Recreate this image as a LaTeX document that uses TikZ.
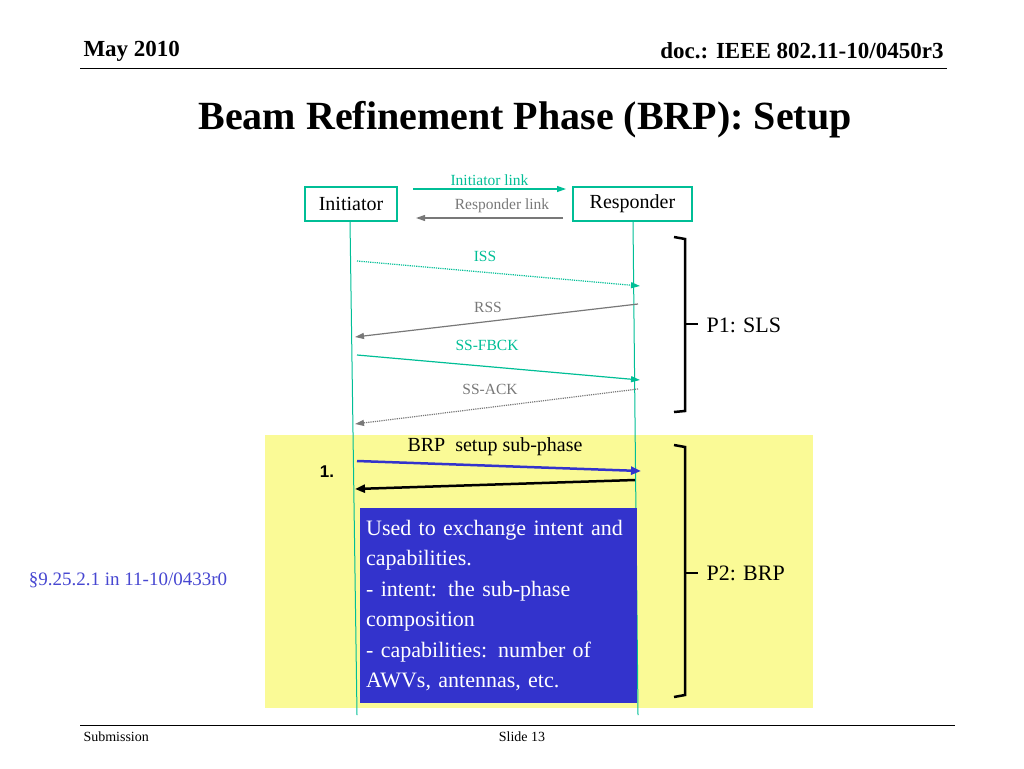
\documentclass[tikz,border=0pt]{standalone}
\usepackage{fontspec}
\setmainfont{Liberation Serif}
\setsansfont{Liberation Sans}
\usetikzlibrary{arrows.meta}
\definecolor{linkteal}{RGB}{0,190,150}
\definecolor{linkgray}{RGB}{120,120,120}
\definecolor{notebg}{RGB}{51,51,204}
\definecolor{padyellow}{RGB}{250,250,150}
\tikzset{
  entity/.style={draw=linkteal,line width=1.2pt,minimum width=#1,minimum height=34pt,font=\fontsize{20}{22}\selectfont},
  msg/.style={-{Triangle[length=9pt,width=6pt]},line width=1.2pt},
  lbl/.style={font=\fontsize{15.5}{17}\selectfont},
  brace/.style={line width=2.5pt},
}
\begin{document}
\begin{tikzpicture}[x=1pt,y=-1pt]
\useasboundingbox (0,0) rectangle (1024,768);

% header
\node[anchor=west,font=\bfseries\fontsize{23}{26}\selectfont] (month) at (80,51) {May 2010};
\node[anchor=east,font=\bfseries\fontsize{23}{26}\selectfont] (doc) at (947,51) {doc.: IEEE 802.11-10/0450r3};
\draw[line width=1pt] (80,68) -- (947,68);
\node[font=\bfseries\fontsize{40}{44}\selectfont] (title) at (525,120) {Beam Refinement Phase (BRP): Setup};

% yellow area
\fill[padyellow] (265,435) rectangle (813,708);

% entities
\node[entity=92pt] (init) at (351,204) {Initiator};
\node[entity=119pt] (resp) at (632.5,204) {Responder};
\coordinate (ilo) at (357,715);
\coordinate (rlo) at (638,715);
\draw[linkteal,line width=1pt] (350,221) -- (ilo);
\draw[linkteal,line width=1pt] (633,221) -- (rlo);

% legend
\coordinate (la) at (413,189); \coordinate (lb) at (566,189);
\draw[msg,linkteal] (la) -- node[above,lbl,yshift=-1pt]{Initiator link} (lb);
\coordinate (lc) at (563,218); \coordinate (ld) at (416,218);
\draw[msg,linkgray] (lc) -- (ld);
\node[lbl,text=linkgray] (rl) at (502,206) {Responder link};

% P1 messages
\coordinate (iss0) at (357,261); \coordinate (iss1) at (640,286);
\draw[msg,linkteal,densely dotted] (iss0) -- (iss1);
\node[lbl,text=linkteal] (isslbl) at (485,256) {ISS};
\coordinate (rss0) at (638,304); \coordinate (rss1) at (355,337);
\draw[msg,linkgray] (rss0) -- (rss1);
\node[lbl,text=linkgray] (rsslbl) at (488,307) {RSS};
\coordinate (fb0) at (357,355); \coordinate (fb1) at (640,380);
\draw[msg,linkteal] (fb0) -- (fb1);
\node[lbl,text=linkteal] (fblbl) at (487,345) {SS-FBCK};
\coordinate (ack0) at (638,389); \coordinate (ack1) at (355,424);
\draw[msg,linkgray,densely dotted] (ack0) -- (ack1);
\node[lbl,text=linkgray] (acklbl) at (490,389) {SS-ACK};

% braces
\draw[brace] (674,237) -- (685,239) -- (685,411) -- (674,412);
\draw[brace] (685,324) -- (698,324);
\node[anchor=west,font=\fontsize{22}{24}\selectfont] (p1) at (703,325) {P1: SLS};
\draw[brace] (674,445) -- (685,447) -- (685,695) -- (674,697);
\draw[brace] (685,573) -- (698,573);
\node[anchor=west,font=\fontsize{22}{24}\selectfont] (p2) at (703,573) {P2: BRP};

% BRP setup
\node[font=\fontsize{20}{22}\selectfont] (setup) at (495,447) {BRP\ \ setup sub-phase};
\coordinate (s0) at (357,461); \coordinate (s1) at (641,471);
\draw[-{Triangle[length=10pt,width=8pt]},line width=2.5pt,notebg] (s0) -- (s1);
\coordinate (s2) at (635,480); \coordinate (s3) at (355,489);
\draw[-{Triangle[length=10pt,width=8pt]},line width=2.5pt] (s2) -- (s3);
\node[font=\sffamily\bfseries\fontsize{17}{19}\selectfont] (one) at (327,472) {1.};

\node[fill=notebg,text=white,anchor=north west,minimum width=277pt,minimum height=195pt,
      text width=265pt,align=left,inner sep=6pt,font=\fontsize{22}{30.5}\selectfont] (note) at (360,508)
  {\hyphenpenalty=10000 Used to exchange intent and capabilities.\\
   - intent: the sub-phase composition\\
   - capabilities: number of AWVs, antennas, etc.};

\node[text=notebg!90!white,font=\fontsize{19}{22}\selectfont] (ref) at (128,580) {\S9.25.2.1 in 11-10/0433r0};

% footer
\draw[line width=1pt] (80,725) -- (955,725);
\node[anchor=west,font=\fontsize{14}{16}\selectfont] (sub) at (80,737) {Submission};
\node[font=\fontsize{14}{16}\selectfont] (slide) at (522,737) {Slide 13};
\end{tikzpicture}
\end{document}
